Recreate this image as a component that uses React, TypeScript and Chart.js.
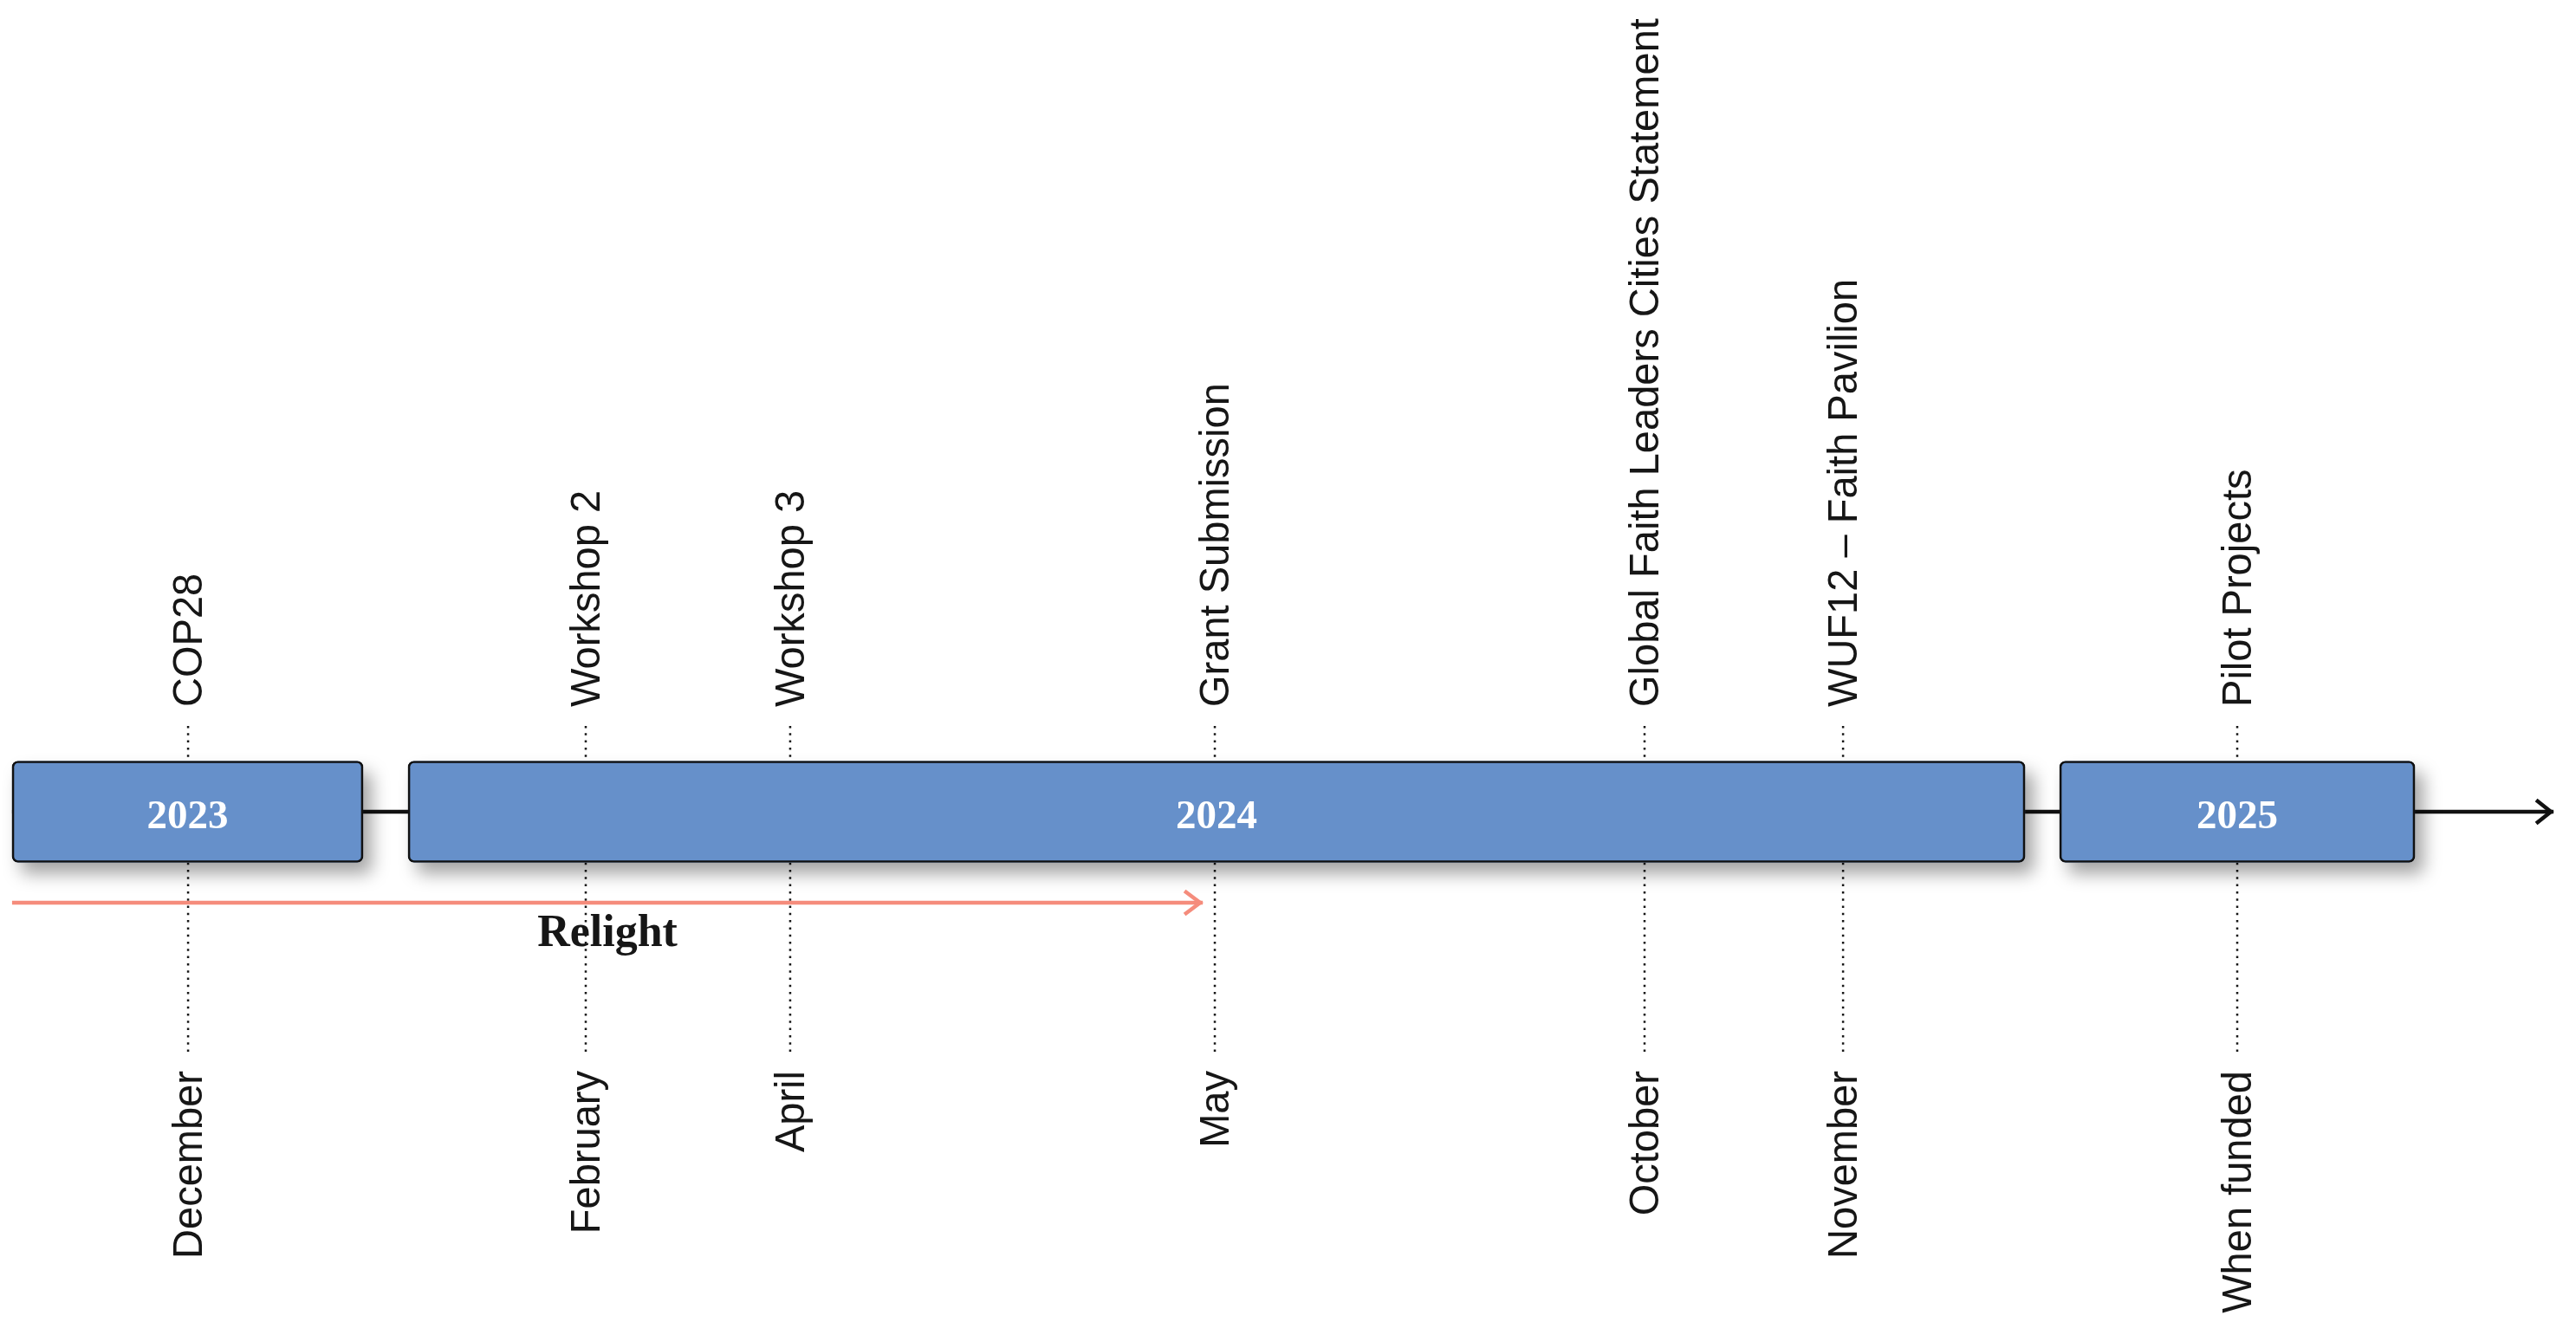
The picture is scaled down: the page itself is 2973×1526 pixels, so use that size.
import { useEffect, useRef } from "react";
import { Chart, registerables } from "chart.js";

Chart.register(...registerables);

// ---- Data ----
const eventLabels = [
  "COP28",
  "Workshop 2",
  "Workshop 3",
  "Grant Submission",
  "Global Faith Leaders Cities Statement",
  "WUF12 – Faith Pavilion",
  "Pilot Projects",
];
const dateLabels = ["December", "February", "April", "May", "October", "November", "When funded"];
const eventPositions = [0, 1.945, 2.945, 5.022, 7.124, 8.095, 10.023];

const yearLabels = ["2023", "2024", "2025"];
const yearStarts = [-0.861, 1.076, 9.154];
const yearEnds = [0.856, 8.985, 10.892];

const timelineRange = [-0.861, 11.57];

const phaseLabels = ["Relight"];
const phaseStarts = [-0.861];
const phaseEnds = [4.963];
const phaseLabelPositions = [2.051];

// ---- Layout (vertical levels on the y scale) ----
const X_MIN = -0.92;
const X_MAX = 11.68;
const Y_MIN = -5.89;
const Y_MAX = 9.37;
const LEVEL_TIMELINE = 0;
const LEVEL_TOP_LABEL = 1.21;
const LEVEL_BOTTOM_LABEL = -2.99;
const LEVEL_GUIDE_TOP = 0.99;
const LEVEL_GUIDE_BOTTOM = -2.78;
const LEVEL_PHASE = -1.05;
const LEVEL_PHASE_LABEL = -1.55;
const LEVEL_YEAR_BASELINE = -0.19;

const BOX_COLOR = "#6690CA";
const INK = "#161616";
const PHASE_COLOR = "#F58C7C";

const shadowPlugin = {
  id: "boxShadow",
  beforeDatasetDraw(chart: any, args: any) {
    const ds: any = chart.data.datasets[args.index];
    if (!ds.castShadow) return;
    const ctx = chart.ctx;
    const meta = chart.getDatasetMeta(args.index);
    ctx.save();
    ctx.shadowColor = "rgba(0,0,0,0.36)";
    ctx.shadowBlur = 20;
    ctx.shadowOffsetX = 10;
    ctx.shadowOffsetY = 13;
    ctx.fillStyle = BOX_COLOR;
    meta.data.forEach((el: any) => {
      const p = el.getProps(["x", "y", "base", "height"], true);
      const left = Math.min(p.x, p.base);
      const w = Math.abs(p.x - p.base);
      ctx.beginPath();
      (ctx as any).roundRect(left, p.y - p.height / 2, w, p.height, 7);
      ctx.fill();
    });
    ctx.restore();
  },
};

const arrowPlugin = {
  id: "arrowHeads",
  afterDatasetsDraw(chart: any) {
    const ctx = chart.ctx;
    chart.data.datasets.forEach((ds: any, i: number) => {
      if (!ds.arrowHead) return;
      const meta = chart.getDatasetMeta(i);
      const last = meta.data[meta.data.length - 1];
      if (!last) return;
      const { depth, half } = ds.arrowHead;
      ctx.save();
      ctx.strokeStyle = ds.borderColor;
      ctx.lineWidth = ds.borderWidth;
      ctx.lineJoin = "miter";
      ctx.lineCap = "butt";
      const tx = last.x - 3;
      ctx.beginPath();
      ctx.moveTo(tx - depth, last.y - half);
      ctx.lineTo(tx, last.y);
      ctx.lineTo(tx - depth, last.y + half);
      ctx.stroke();
      ctx.restore();
    });
  },
};

const labelPlugin = {
  id: "timelineLabels",
  afterDatasetsDraw(chart: any) {
    const ctx = chart.ctx;
    const xs = chart.scales.x;
    const ys = chart.scales.y;

    // Event labels (above) and date labels (below), rotated
    ctx.save();
    ctx.fillStyle = INK;
    ctx.font = "49px 'Liberation Sans', Arial, sans-serif";
    ctx.textBaseline = "alphabetic";
    eventPositions.forEach((pos, i) => {
      const px = xs.getPixelForValue(pos);
      ctx.save();
      ctx.translate(px, ys.getPixelForValue(LEVEL_TOP_LABEL));
      ctx.rotate(-Math.PI / 2);
      ctx.scale(0.96, 1);
      ctx.textAlign = "left";
      ctx.fillText(eventLabels[i], 0, 16);
      ctx.restore();

      ctx.save();
      ctx.translate(px, ys.getPixelForValue(LEVEL_BOTTOM_LABEL));
      ctx.rotate(-Math.PI / 2);
      ctx.scale(0.96, 1);
      ctx.textAlign = "right";
      ctx.fillText(dateLabels[i], 0, 16);
      ctx.restore();
    });
    ctx.restore();

    // Year labels inside boxes
    ctx.save();
    ctx.fillStyle = "#ffffff";
    ctx.font = "bold 47px 'Liberation Serif', 'Times New Roman', serif";
    ctx.textAlign = "center";
    ctx.textBaseline = "alphabetic";
    yearLabels.forEach((label, i) => {
      const cx = xs.getPixelForValue((yearStarts[i] + yearEnds[i]) / 2);
      const cy = ys.getPixelForValue(LEVEL_YEAR_BASELINE);
      ctx.fillText(label, cx, cy);
    });
    ctx.restore();

    // Phase label
    ctx.save();
    ctx.fillStyle = INK;
    ctx.font = "bold 52px 'Liberation Serif', 'Times New Roman', serif";
    ctx.textAlign = "center";
    ctx.textBaseline = "alphabetic";
    phaseLabels.forEach((label, i) => {
      ctx.fillText(label, xs.getPixelForValue(phaseLabelPositions[i]), ys.getPixelForValue(LEVEL_PHASE_LABEL));
    });
    ctx.restore();
  },
};

export default function App() {
  const canvasRef = useRef<HTMLCanvasElement | null>(null);

  useEffect(() => {
    if (!canvasRef.current) return;

    const guideDatasets = eventPositions.map((pos) => ({
      type: "line" as const,
      data: [
        { x: pos, y: LEVEL_GUIDE_TOP },
        { x: pos, y: LEVEL_GUIDE_BOTTOM },
      ],
      borderColor: INK,
      borderWidth: 2.5,
      borderDash: [2.5, 5.8],
      borderCapStyle: "butt",
      pointRadius: 0,
      fill: false,
      order: 4,
      xAxisID: "x",
      yAxisID: "y",
    }));

    const phaseDatasets = phaseStarts.map((start, i) => ({
      type: "line" as const,
      data: [
        { x: start, y: LEVEL_PHASE },
        { x: phaseEnds[i], y: LEVEL_PHASE },
      ],
      borderColor: PHASE_COLOR,
      borderWidth: 4.5,
      pointRadius: 0,
      fill: false,
      order: 1,
      arrowHead: { depth: 18, half: 13.5 },
      xAxisID: "x",
      yAxisID: "y",
    }));

    const chart = new Chart(canvasRef.current, {
      type: "line",
      data: {
        datasets: [
          {
            type: "bar",
            indexAxis: "y",
            data: yearLabels.map((_, i) => ({ x: [yearStarts[i], yearEnds[i]], y: LEVEL_TIMELINE })),
            backgroundColor: BOX_COLOR,
            borderColor: "#111111",
            borderWidth: 2.7,
            borderRadius: 7,
            borderSkipped: false,
            barThickness: 117,
            castShadow: true,
            order: 0,
            xAxisID: "x",
            yAxisID: "y",
          } as any,
          ...phaseDatasets,
          {
            type: "line",
            data: [
              { x: timelineRange[0], y: LEVEL_TIMELINE },
              { x: timelineRange[1], y: LEVEL_TIMELINE },
            ],
            borderColor: "#111111",
            borderWidth: 4.5,
            pointRadius: 0,
            fill: false,
            order: 3,
            arrowHead: { depth: 17, half: 13.5 },
            xAxisID: "x",
            yAxisID: "y",
          } as any,
          ...guideDatasets,
        ] as any,
      },
      options: {
        animation: false,
        responsive: true,
        maintainAspectRatio: false,
        events: [],
        layout: { padding: 0 },
        plugins: {
          legend: { display: false },
          tooltip: { enabled: false },
        },
        scales: {
          x: {
            type: "linear",
            min: X_MIN,
            max: X_MAX,
            offset: false,
            beginAtZero: false,
            display: false,
          },
          y: {
            type: "linear",
            min: Y_MIN,
            max: Y_MAX,
            offset: false,
            beginAtZero: false,
            display: false,
          },
        },
      } as any,
      plugins: [shadowPlugin, arrowPlugin, labelPlugin],
    });

    return () => chart.destroy();
  }, []);

  return (
    <div style={{ position: "fixed", left: 0, top: 0, width: "100vw", height: "100vh", background: "#ffffff" }}>
      <canvas ref={canvasRef} />
    </div>
  );
}
